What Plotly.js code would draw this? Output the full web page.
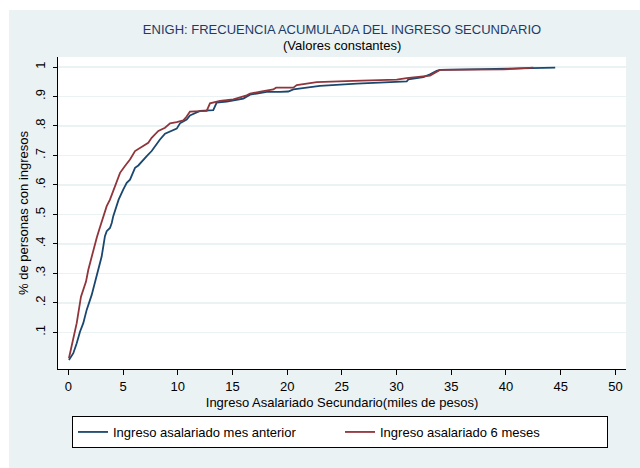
<!DOCTYPE html>
<html>
<head>
<meta charset="utf-8">
<script src="https://cdn.plot.ly/plotly-3.0.1.min.js"></script>
<style>html,body{margin:0;padding:0;background:#fff;}#chart{width:640px;height:468px;}</style>
</head>
<body>
<div id="chart"></div>
<script>
const seriesNames = ["Ingreso asalariado mes anterior", "Ingreso asalariado 6 meses"];
const mesAnteriorX = [0.06, 0.46, 0.77, 1.07, 1.37, 1.68, 2.14, 2.44, 2.74, 3.05, 3.35, 3.51, 3.81, 3.97, 4.11, 4.42, 4.6, 5.03, 5.34, 5.64, 6.10, 6.40, 6.86, 7.17, 7.62, 7.93, 8.38, 8.84, 9.45, 9.91, 10.21, 10.82, 11.12, 11.74, 12.04, 13.25, 13.56, 14.48, 16.0, 16.61, 18.14, 19.35, 20.1, 20.57, 23.0, 26.36, 30.93, 31.08, 32.45, 33.06, 33.67, 33.97, 41.29, 44.5];
const mesAnteriorY = [0.006, 0.029, 0.063, 0.102, 0.131, 0.176, 0.227, 0.267, 0.312, 0.357, 0.426, 0.443, 0.454, 0.471, 0.494, 0.533, 0.55, 0.585, 0.607, 0.618, 0.658, 0.666, 0.686, 0.698, 0.715, 0.732, 0.754, 0.774, 0.783, 0.791, 0.809, 0.822, 0.836, 0.845, 0.851, 0.854, 0.879, 0.883, 0.893, 0.906, 0.916, 0.916, 0.917, 0.924, 0.936, 0.944, 0.951, 0.958, 0.966, 0.975, 0.987, 0.99, 0.995, 0.998];
const seisMesesX = [0.06, 0.46, 0.77, 1.16, 1.62, 1.83, 2.29, 2.60, 2.83, 3.20, 3.51, 3.81, 4.27, 4.73, 5.18, 5.64, 6.10, 6.55, 7.31, 7.62, 8.23, 8.84, 9.30, 9.91, 10.51, 10.82, 11.12, 12.65, 12.95, 13.87, 15.08, 16.31, 16.61, 17.82, 18.74, 18.99, 20.57, 20.88, 22.71, 26.05, 30.02, 30.93, 31.85, 33.06, 33.52, 33.97, 39.76, 41.29, 42.5];
const seisMesesY = [0.012, 0.085, 0.131, 0.221, 0.272, 0.312, 0.38, 0.421, 0.449, 0.494, 0.528, 0.55, 0.596, 0.641, 0.664, 0.686, 0.715, 0.726, 0.743, 0.76, 0.783, 0.794, 0.809, 0.813, 0.819, 0.832, 0.849, 0.851, 0.877, 0.885, 0.89, 0.904, 0.91, 0.918, 0.924, 0.93, 0.93, 0.939, 0.949, 0.953, 0.957, 0.962, 0.966, 0.971, 0.981, 0.99, 0.992, 0.995, 0.998];
const xTickVals = [0, 5, 10, 15, 20, 25, 30, 35, 40, 45, 50];
const yTickVals = [0.1, 0.2, 0.3, 0.4, 0.5, 0.6, 0.7, 0.8, 0.9, 1];
const yTickText = [".1", ".2", ".3", ".4", ".5", ".6", ".7", ".8", ".9", "1"];

const BG = '#EAF2F3';
const FONT = 'Liberation Sans, Arial, sans-serif';

const traces = [
  {x: mesAnteriorX, y: mesAnteriorY, name: seriesNames[0], type: 'scatter', mode: 'lines',
   line: {color: '#1A476F', width: 1.8}},
  {x: seisMesesX, y: seisMesesY, name: seriesNames[1], type: 'scatter', mode: 'lines',
   line: {color: '#90353B', width: 1.8}}
];

const layout = {
  width: 640, height: 468,
  margin: {l: 58, r: 14, t: 57, b: 99, autoexpand: false},
  paper_bgcolor: BG,
  plot_bgcolor: '#ffffff',
  font: {family: FONT, size: 13, color: '#000'},
  title: {
    text: 'ENIGH: FRECUENCIA ACUMULADA DEL INGRESO SECUNDARIO',
    font: {family: FONT, size: 13, color: '#1E3A68'},
    x: 0.5, xref: 'paper', xanchor: 'center',
    y: 1 - 29/468, yref: 'container', yanchor: 'middle'
  },
  annotations: [{
    text: '(Valores constantes)', xref: 'paper', yref: 'paper',
    x: 0.5, y: (369 - 46) / 312, xanchor: 'center', yanchor: 'middle',
    showarrow: false, font: {family: FONT, size: 13, color: '#000'}
  }],
  xaxis: {
    range: [-0.94, 50.97], tickvals: xTickVals, ticks: 'outside', ticklen: 5,
    tickcolor: '#000', showline: true, linecolor: '#000', linewidth: 1,
    showgrid: false, zeroline: false, tickfont: {size: 13},
    title: {text: 'Ingreso Asalariado Secundario(miles de pesos)', font: {size: 13}, standoff: 5}
  },
  yaxis: {
    range: [-0.0245, 1.034], tickvals: yTickVals, ticktext: yTickText, tickangle: -90,
    ticks: 'outside', ticklen: 4, tickcolor: '#000', showline: true, linecolor: '#000', linewidth: 1,
    showgrid: true, gridcolor: BG, gridwidth: 1.5, zeroline: false, tickfont: {size: 13}, ticklabelstandoff: 3,
    title: {text: '% de personas con ingresos', font: {size: 13}, standoff: 1}
  },
  showlegend: true,
  legend: {
    orientation: 'h', x: (72 - 58) / 568, xanchor: 'left', y: (369 - 416) / 312, yanchor: 'top',
    bgcolor: '#ffffff', bordercolor: '#000', borderwidth: 1, entrywidth: 222,
    font: {family: FONT, size: 13, color: '#000'}
  },
  shapes: [
    {type: 'rect', xref: 'paper', yref: 'paper', x0: -58/568, x1: 582/568 + 14/568, y0: (369 - 10)/312, y1: (369)/312 + 0.2,
     fillcolor: '#ffffff', line: {width: 0}, layer: 'below'},
    {type: 'rect', xref: 'paper', yref: 'paper', x0: -58/568, x1: (9 - 58)/568, y0: -99/312, y1: 369/312,
     fillcolor: '#ffffff', line: {width: 0}, layer: 'below'}
  ]
};

Plotly.newPlot('chart', traces, layout, {displayModeBar: false, staticPlot: true});
</script>
</body>
</html>
